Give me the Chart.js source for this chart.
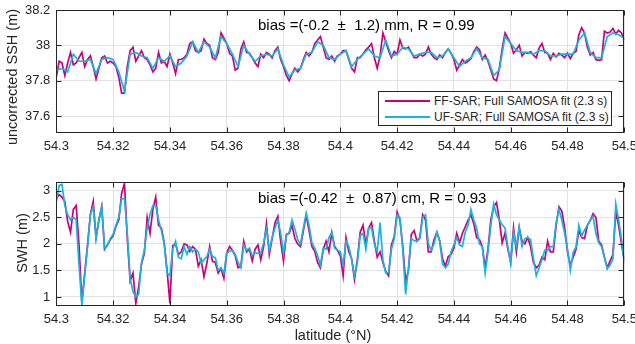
<!DOCTYPE html>
<html>
<head>
<meta charset="utf-8">
<script src="https://cdn.jsdelivr.net/npm/chart.js@4.4.1/dist/chart.umd.min.js"></script>
<style>
  body { margin: 0; background: #fff; }
  #wrap { position: relative; width: 635px; height: 344px; overflow: hidden; font-family: "Liberation Sans", Arial, sans-serif; color: #262626; }
  canvas { position: absolute; left: 0; }
  .t { position: absolute; white-space: pre; line-height: 1; }
  .rot { transform: translate(-50%, -50%) rotate(-90deg); }
  .ctr { transform: translate(-50%, -50%); }
  #legend { position: absolute; left: 378px; top: 91px; width: 232px; height: 33px; border: 1px solid #262626; background: #fff; font-size: 12px; }
  #legend div { position: absolute; left: 6px; height: 14px; display: flex; align-items: center; white-space: pre; }
  #legend span.ln { display: inline-block; width: 45px; height: 2px; margin-right: 4px; }
</style>
</head>
<body>
<div id="wrap">
  <canvas id="top" width="635" height="162" style="top:0"></canvas>
  <canvas id="bot" width="635" height="179" style="top:165px"></canvas>

  <div class="t rot" style="left:12px;top:77px;font-size:14.5px">uncorrected SSH (m)</div>
  <div class="t rot" style="left:22px;top:243px;font-size:14.5px">SWH (m)</div>
  <div class="t ctr" style="left:333px;top:335px;font-size:14.5px">latitude (°N)</div>

  <div class="t" style="left:258px;top:17px;font-size:15px;color:#000">bias =(-0.2  ±  1.2) mm, R = 0.99</div>
  <div class="t" style="left:258px;top:190px;font-size:15px;color:#000">bias =(-0.42  ±  0.87) cm, R = 0.93</div>

  <div id="legend">
    <div style="top:2px"><span class="ln" style="background:#cc0077"></span>FF-SAR; Full SAMOSA fit (2.3 s)</div>
    <div style="top:18px"><span class="ln" style="background:#17b4e3"></span>UF-SAR; Full SAMOSA fit (2.3 s)</div>
  </div>
</div>

<script>
// sampling grid (latitude, deg N)
const latStart = 54.3;
const latFine = Array.from({ length: 201 }, (_, i) => +(latStart + i * 0.001).toFixed(3));
const latCoarse = Array.from({ length: 101 }, (_, i) => +(latStart + i * 0.002).toFixed(3));

const xTicks = [54.3, 54.32, 54.34, 54.36, 54.38, 54.4, 54.42, 54.44, 54.46, 54.48, 54.5];
const sshTicks = [37.6, 37.8, 38, 38.2];
const swhTicks = [1, 1.5, 2, 2.5, 3];

// uncorrected SSH (m)
const sshFF = [
  37.82, 37.91, 37.90, 37.83, 37.90, 37.96, 37.89, 37.90, 37.93, 37.96,
  37.88, 37.92, 37.94, 37.88, 37.81, 37.87, 37.93, 37.94, 37.90, 37.91,
  37.90, 37.88, 37.82, 37.73, 37.73, 37.88, 37.97, 37.99, 37.91, 37.94,
  37.97, 37.93, 37.92, 37.89, 37.85, 37.87, 37.96, 37.90, 37.91, 37.88,
  37.95, 37.90, 37.84, 37.92, 37.92, 37.93, 37.95, 38.01, 38.02, 37.97,
  37.96, 37.97, 38.035, 38.01, 38.00, 37.93, 37.92, 37.96, 38.07, 38.04,
  38.01, 37.955, 37.94, 37.86, 37.87, 37.98, 38.02, 37.96, 37.955, 37.93,
  37.90, 37.88, 37.95, 37.93, 37.96, 37.95, 37.93, 37.97, 37.99, 37.92,
  37.88, 37.83, 37.80, 37.84, 37.87, 37.85, 37.87, 37.92, 37.96, 37.94,
  37.96, 38.01, 38.03, 38.05, 37.99, 37.93, 37.92, 37.94, 37.91, 37.94,
  37.95, 37.97, 37.97, 37.92, 37.87, 37.85, 37.93, 37.93, 37.95, 37.975,
  37.99, 38.01, 37.93, 37.87, 37.94, 38.07, 38.02, 37.97, 37.93, 37.965,
  37.95, 38.03, 37.985, 37.98, 37.99, 37.96, 37.93, 37.93, 37.95, 37.94,
  37.95, 37.99, 37.95, 37.93, 37.92, 37.945, 37.93, 37.96, 37.98, 37.955,
  37.92, 37.86, 37.89, 37.92, 37.90, 37.91, 37.925, 37.965, 37.99, 37.975,
  37.92, 37.945, 37.91, 37.86, 37.81, 37.80, 37.87, 37.98, 38.07, 38.04,
  38.01, 37.955, 37.975, 38.00, 37.94, 37.96, 37.955, 37.965, 37.945, 37.93,
  37.985, 38.01, 37.96, 37.955, 37.92, 37.955, 37.935, 37.955, 37.945, 37.93,
  37.955, 37.925, 37.955, 37.965, 38.06, 38.10, 38.07, 37.99, 37.945, 37.96,
  37.92, 37.915, 37.92, 38.08, 38.07, 38.075, 38.095, 38.065, 38.085, 38.07,
  38.03
];
const sshUF = [
  37.86, 37.87, 37.85, 37.95, 37.91, 37.91, 37.92, 37.84, 37.92, 37.93,
  37.92, 37.85, 37.74, 37.95, 37.96, 37.94, 37.93, 37.87, 37.93, 37.91,
  37.94, 37.88, 37.90, 37.94, 38.02, 37.96, 38.02, 37.99, 37.93, 38.05,
  38.01, 37.95, 37.88, 38.00, 37.95, 37.91, 37.94, 37.95, 37.94, 37.98,
  37.89, 37.82, 37.86, 37.87, 37.95, 37.96, 38.02, 38.00, 37.93, 37.92,
  37.95, 37.97, 37.88, 37.92, 37.95, 37.98, 37.94, 37.93, 38.03, 37.94,
  37.95, 37.99, 37.98, 37.94, 37.95, 37.96, 37.96, 37.93, 37.94, 37.98,
  37.93, 37.88, 37.91, 37.93, 37.98, 37.93, 37.92, 37.83, 37.86, 38.05,
  38.01, 37.97, 37.96, 37.96, 37.95, 37.97, 37.97, 37.94, 37.94, 37.95,
  37.95, 37.95, 38.03, 38.07, 37.96, 37.93, 37.93, 38.05, 38.07, 38.06,
  38.04
];

// SWH (m)
const swhFF = [
  2.85, 2.93, 2.88, 2.80, 2.42, 2.22, 2.65, 2.72, 1.98, 0.90,
  1.45, 1.98, 2.55, 2.80, 2.12, 2.45, 2.70, 1.90, 1.98, 2.08,
  2.15, 2.33, 2.45, 2.95, 3.14, 2.10, 1.30, 1.45, 0.88, 1.20,
  1.62, 1.82, 2.50, 2.20, 2.65, 2.88, 2.35, 2.30, 2.02, 1.50,
  0.88, 1.97, 2.00, 1.80, 1.85, 2.00, 1.98, 1.86, 1.95, 1.90,
  1.58, 1.70, 1.38, 1.63, 1.95, 1.67, 1.65, 1.45, 1.54, 1.35,
  1.82, 1.95, 1.88, 1.78, 1.55, 1.58, 2.05, 1.85, 1.90, 1.68,
  1.90, 1.98, 1.70, 1.95, 2.38, 1.80, 2.10, 2.40, 2.52, 2.05,
  1.68, 2.18, 2.20, 2.35, 2.10, 2.00, 1.95, 2.25, 2.54, 2.25,
  1.95, 1.86, 1.65, 1.55, 1.90, 2.05, 1.85, 2.21, 1.95, 1.88,
  1.78, 1.40, 2.12, 1.85, 1.72, 1.33, 1.70, 2.22, 2.35, 1.98,
  2.30, 2.40, 2.05, 1.75, 1.85, 1.65, 1.48, 1.40, 1.98, 2.14,
  2.60, 2.45, 1.95, 1.30, 1.50, 2.18, 2.25, 2.05, 2.12, 2.55,
  2.45, 1.85, 1.85, 2.08, 2.22, 2.06, 1.72, 1.58, 1.76, 1.80,
  1.92, 2.20, 2.02, 2.20, 2.32, 2.45, 2.55, 2.38, 2.12, 2.08,
  1.95, 1.55, 1.90, 2.45, 2.70, 2.78, 2.45, 2.02, 2.20, 1.90,
  1.66, 2.30, 1.85, 2.30, 2.05, 2.00, 2.12, 1.95, 1.65, 1.55,
  1.60, 1.75, 1.70, 2.05, 1.85, 1.85, 2.35, 2.70, 2.62, 2.30,
  1.85, 1.60, 1.75, 1.90, 2.25, 2.12, 2.10, 2.35, 2.44, 2.57,
  2.50, 2.05, 1.98, 1.75, 1.55, 1.68, 1.80, 2.60, 2.35, 2.00,
  1.70
];
const swhUF = [
  2.80, 3.10, 3.12, 2.72, 2.55, 2.45, 2.50, 2.45, 1.60, 0.85,
  1.40, 1.95, 2.55, 2.70, 2.10, 2.45, 2.70, 1.92, 1.98, 2.10,
  2.18, 2.35, 2.50, 2.85, 2.85, 2.20, 1.35, 1.10, 1.00, 1.05,
  1.65, 1.88, 2.30, 2.55, 2.72, 2.72, 2.45, 2.25, 2.00, 1.45,
  1.40, 1.90, 2.05, 1.75, 1.72, 1.95, 1.80, 1.95, 1.85, 1.90,
  1.85, 1.64, 1.70, 1.76, 1.90, 1.76, 1.74, 1.50, 1.55, 1.45,
  1.82, 1.86, 1.88, 1.80, 1.65, 1.55, 1.98, 1.88, 1.92, 1.78,
  1.84, 1.82, 1.82, 2.02, 2.28, 1.88, 2.12, 2.30, 2.45, 2.20,
  1.82, 2.15, 2.22, 2.45, 2.28, 2.08, 2.00, 2.30, 2.58, 2.35,
  2.02, 1.92, 1.78, 1.60, 1.92, 1.90, 2.12, 2.22, 1.92, 1.88,
  1.85, 1.60, 2.05, 1.95, 1.70, 1.40, 1.65, 2.15, 2.20, 1.90,
  2.30, 2.30, 2.00, 1.85, 2.40, 1.70, 1.45, 1.46, 1.90, 2.10,
  2.55, 2.50, 1.90, 1.05, 1.55, 2.10, 2.06, 2.05, 2.10, 2.50,
  2.55, 2.00, 1.88, 2.00, 2.22, 2.05, 1.62, 1.55, 1.62, 1.85,
  1.98, 2.12, 1.98, 1.95, 2.22, 2.35, 2.65, 2.45, 2.30, 2.00,
  1.95, 1.45, 1.85, 2.35, 2.75, 2.55, 2.45, 2.36, 2.30, 1.95,
  1.63, 2.22, 1.95, 2.32, 1.95, 2.10, 2.12, 2.08, 1.72, 1.40,
  1.55, 1.70, 1.88, 1.87, 1.95, 1.95, 2.40, 2.65, 2.45, 2.20,
  1.90, 1.50, 1.84, 1.94, 2.35, 2.15, 2.26, 2.35, 2.45, 2.52,
  2.20, 2.02, 1.95, 1.75, 1.53, 1.60, 1.72, 2.75, 2.45, 2.10,
  1.65
];

const FF_COLOR = '#cc0077';
const UF_COLOR = '#17b4e3';
const INK = '#262626';

// MATLAB-style box with inward ticks on all four sides
const boxPlugin = {
  id: 'box',
  afterDraw(chart) {
    const { ctx, chartArea: a, scales: { x, y } } = chart;
    const L = Math.round(a.left) + 0.5, R = Math.round(a.right) - 0.5;
    const T = Math.round(a.top) + 0.5, B = Math.round(a.bottom) - 0.5;
    ctx.save();
    ctx.strokeStyle = INK;
    ctx.lineWidth = 1;
    ctx.beginPath();
    x.ticks.forEach(t => {
      const px = Math.round(x.getPixelForValue(t.value)) + 0.5;
      ctx.moveTo(px, B); ctx.lineTo(px, B - 5);
      ctx.moveTo(px, T); ctx.lineTo(px, T + 5);
    });
    y.ticks.forEach(t => {
      const py = Math.round(y.getPixelForValue(t.value)) + 0.5;
      ctx.moveTo(L, py); ctx.lineTo(L + 5, py);
      ctx.moveTo(R, py); ctx.lineTo(R - 5, py);
    });
    ctx.stroke();
    ctx.strokeRect(L, T, R - L, B - T);
    ctx.restore();
  }
};

function series(lat, vals, color, order) {
  return {
    data: lat.map((x, i) => ({ x, y: vals[i] })),
    borderColor: color,
    borderWidth: 1.7,
    pointRadius: 0,
    tension: 0,
    order
  };
}

function makeChart(id, ff, ffLat, uf, ufLat, yMin, yMax, yTicks, padTop, xAxisH) {
  return new Chart(document.getElementById(id), {
    type: 'line',
    data: {
      datasets: [
        series(ufLat, uf, UF_COLOR, 0),
        series(ffLat, ff, FF_COLOR, 1)
      ]
    },
    options: {
      responsive: false,
      animation: false,
      devicePixelRatio: 1,
      events: [],
      layout: { autoPadding: false, padding: { left: 0, right: 10.7, top: padTop, bottom: 0 } },
      plugins: { legend: { display: false }, tooltip: { enabled: false } },
      scales: {
        x: {
          type: 'linear',
          min: 54.3,
          max: 54.5,
          afterBuildTicks: s => { s.ticks = xTicks.map(v => ({ value: v })); },
          afterFit: s => { s.height = xAxisH; s.paddingLeft = 0; s.paddingRight = 0; },
          grid: { color: '#e2e2e2', drawTicks: false },
          border: { display: false },
          ticks: {
            padding: 6,
            maxRotation: 0,
            autoSkip: false,
            color: INK,
            font: { family: '"Liberation Sans", Arial, sans-serif', size: 13 },
            callback: v => String(+v.toFixed(2))
          }
        },
        y: {
          min: yMin,
          max: yMax,
          afterBuildTicks: s => { s.ticks = yTicks.map(v => ({ value: v })); },
          afterFit: s => { s.width = 56.3; s.paddingTop = 0; s.paddingBottom = 0; },
          grid: { color: '#e2e2e2', drawTicks: false },
          border: { display: false },
          ticks: {
            padding: 6,
            autoSkip: false,
            color: INK,
            font: { family: '"Liberation Sans", Arial, sans-serif', size: 13 },
            callback: v => String(+v.toFixed(2))
          }
        }
      }
    },
    plugins: [boxPlugin]
  });
}

makeChart('top', sshFF, latFine, sshUF, latCoarse, 37.504, 38.2, sshTicks, 10, 29);
makeChart('bot', swhFF, latFine, swhUF, latFine, 0.83, 3.16, swhTicks, 17.3, 38);
</script>
</body>
</html>
